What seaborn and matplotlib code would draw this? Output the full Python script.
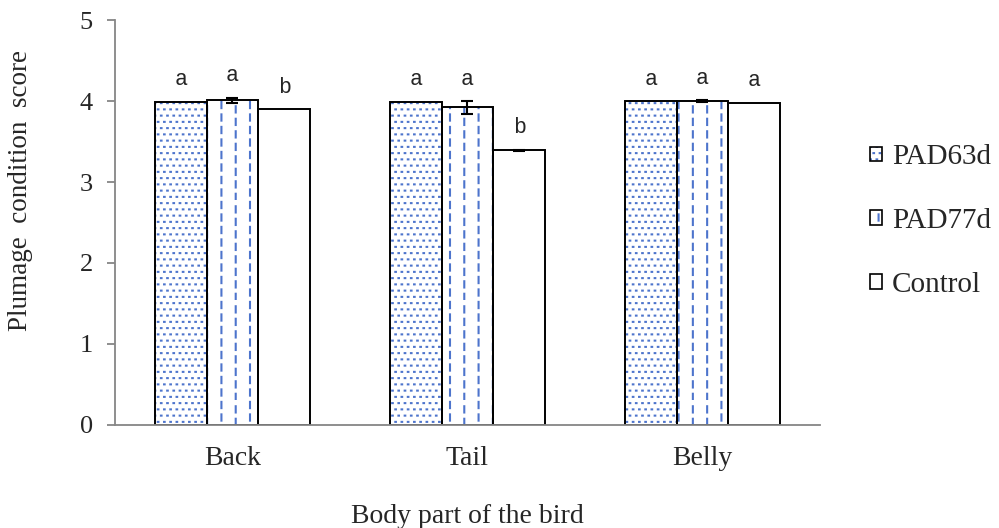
import warnings
warnings.filterwarnings("ignore")
import numpy as np
import pandas as pd
import matplotlib
matplotlib.use("Agg")
import matplotlib.pyplot as plt
import matplotlib.hatch as mhatch
from matplotlib.path import Path
from matplotlib.patches import Patch
import seaborn as sns

# ---------------- data ----------------
body_parts = ["Back", "Tail", "Belly"]
groups = ["PAD63d", "PAD77d", "Control"]
pad63_means = [3.99, 3.99, 4.00]
pad77_means = [4.01, 3.92, 4.00]
control_means = [3.90, 3.39, 3.98]
pad63_err = [0.0, 0.0, 0.0]
pad77_err = [0.03, 0.075, 0.01]
control_err = [0.0, 0.01, 0.0]
pad63_letters = ["a", "a", "a"]
pad77_letters = ["a", "a", "a"]
control_letters = ["b", "b", "a"]
y_ticks = [0, 1, 2, 3, 4, 5]


# ---------------- custom hatches ----------------
class DashedVertical(mhatch.HatchPatternBase):
    """'!' : dashed vertical lines"""
    def __init__(self, hatch, density):
        n = hatch.count('!')
        self.num_lines = 7 * n
        self.num_dashes = 8
        self.num_vertices = self.num_lines * self.num_dashes * 2

    def set_vertices_and_codes(self, vertices, codes):
        k = 0
        for i in range(self.num_lines):
            x = (i + 0.5) / self.num_lines
            shift = 0.35 if i % 2 else 0.0
            for j in range(self.num_dashes):
                y0 = (j + shift) / self.num_dashes
                y1 = y0 + 0.5 / self.num_dashes
                vertices[k] = (x, y0)
                vertices[k + 1] = (x, y1)
                codes[k] = Path.MOVETO
                codes[k + 1] = Path.LINETO
                k += 2


class DotGrid(mhatch.HatchPatternBase):
    """':' : staggered grid of small dots"""
    def __init__(self, hatch, density):
        n = hatch.count(':')
        self.num_rows = 16 * n
        self.num_vertices = self.num_rows * self.num_rows * 2

    def set_vertices_and_codes(self, vertices, codes):
        N = self.num_rows
        k = 0
        for r in range(N):
            y = (r + 0.5) / N
            shift = 0.5 / N if r % 2 else 0.0
            for c in range(N):
                x = (c + 0.25) / N + shift
                vertices[k] = (x, y)
                vertices[k + 1] = (x + 0.006, y)
                codes[k] = Path.MOVETO
                codes[k + 1] = Path.LINETO
                k += 2


mhatch._hatch_types.append(DashedVertical)
mhatch._hatch_types.append(DotGrid)
mhatch._validate_hatch_pattern = lambda hatch: None

sns.set_style("white")
plt.rcParams["font.family"] = ["Liberation Serif", "DejaVu Serif"]
plt.rcParams["hatch.linewidth"] = 1.5
plt.rcParams["path.simplify"] = False

blue = "#4d74cc"
gray = "#868686"
hatches = {"PAD63d": ":", "PAD77d": "!", "Control": ""}

rows = []
for g, m in zip(groups, [pad63_means, pad77_means, control_means]):
    for p, v in zip(body_parts, m):
        rows.append({"part": p, "group": g, "score": v})
df = pd.DataFrame(rows)
err_map = dict(zip(groups, [pad63_err, pad77_err, control_err]))
letter_map = dict(zip(groups, [pad63_letters, pad77_letters, control_letters]))

fig = plt.figure(figsize=(9.99, 5.28), dpi=100)
ax = fig.add_axes([0.1151, 0.1951, 0.7057, 0.767])

# hatch layer
sns.barplot(data=df, x="part", y="score", hue="group", order=body_parts,
            hue_order=groups, errorbar=None, width=0.66,
            palette=["white"] * 3, linewidth=0, legend=False, ax=ax)
for g, cont in zip(groups, ax.containers):
    for bar in cont:
        bar.set_hatch(hatches[g])
        bar.set_edgecolor(blue)
        bar.set_linewidth(0)
n_hatch_containers = len(ax.containers)

# outline layer
sns.barplot(data=df, x="part", y="score", hue="group", order=body_parts,
            hue_order=groups, errorbar=None, width=0.66, fill=False,
            palette=["black"] * 3, linewidth=1.4, legend=False, ax=ax)
for cont in ax.containers[n_hatch_containers:]:
    for bar in cont:
        bar.set_edgecolor("black")
        bar.set_linewidth(1.4)

# error bars and significance letters
for g, cont in zip(groups, ax.containers[:n_hatch_containers]):
    for bar, e, lab in zip(cont, err_map[g], letter_map[g]):
        xc = bar.get_x() + bar.get_width() / 2
        yt = bar.get_height()
        if e > 0:
            ax.errorbar(xc, yt, yerr=e, fmt="none", ecolor="black",
                        elinewidth=1.5, capsize=4, capthick=1.5, zorder=5)
        ax.text(xc, yt + e + 0.27, lab, ha="center", va="center",
                fontsize=15.5, family=["Liberation Mono", "DejaVu Sans Mono"])

ax.set_ylim(0, 5)
ax.set_xlim(-0.5, 2.5)
ax.set_yticks(y_ticks)
ax.set_yticklabels([str(t) for t in y_ticks], fontsize=19)
ax.set_xticks(range(len(body_parts)))
ax.set_xticklabels(body_parts, fontsize=20)
ax.set_xticks([-0.5, 0.5, 1.5, 2.5], minor=True)
ax.tick_params(axis="x", which="major", length=0, pad=15)
ax.tick_params(axis="x", which="minor", length=7, width=1.3, color=gray,
               direction="out")
ax.tick_params(axis="y", which="major", length=6, width=1.3, color=gray,
               direction="out", pad=10, left=True)

for s in ["top", "right"]:
    ax.spines[s].set_visible(False)
for s in ["left", "bottom"]:
    ax.spines[s].set_color(gray)
    ax.spines[s].set_linewidth(1.3)

ax.set_xlabel("Body part of the bird", fontsize=20, labelpad=24)
ax.set_ylabel("Plumage  condition  score", fontsize=19.5)
ax.yaxis.set_label_coords(-0.117, 0.578)

handles = []
for g in groups:
    hp = Patch(facecolor="white", edgecolor=blue, hatch=hatches[g], linewidth=0)
    op = Patch(facecolor="none", edgecolor="black", linewidth=1.2)
    handles.append((hp, op))
fig.legend(handles, groups, loc="center left", bbox_to_anchor=(0.871, 0.581),
           frameon=False, fontsize=21, handlelength=0.4, handleheight=0.4,
           handletextpad=0.35, labelspacing=1.3, borderpad=0, borderaxespad=0)

fig.savefig("out.png", dpi=100)
